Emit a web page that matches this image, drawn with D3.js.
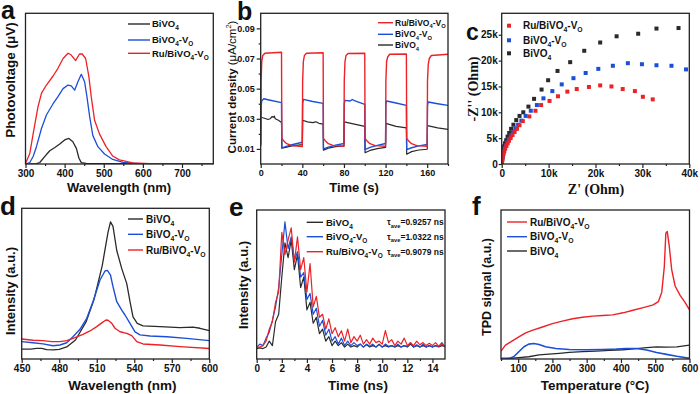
<!DOCTYPE html>
<html>
<head>
<meta charset="utf-8">
<script src="https://cdn.jsdelivr.net/npm/d3@7/dist/d3.min.js"></script>
<style>
body { margin: 0; background: #fff; }
text { font-family: "Liberation Sans", Arial, sans-serif; font-weight: bold; fill: #111; }
.serif { font-family: "Liberation Serif", "Times New Roman", serif; }
</style>
</head>
<body>
<script>
//colours used in every panel
var RED = "#ec2227", BLUE = "#1b4fd8", BLACK = "#2a2a2a";

//legend names, [text, isSubscript]
var nameRu = [["Ru/BiVO", 0], ["4", 1], ["-V", 0], ["O", 1]];
var nameV = [["BiVO", 0], ["4", 1], ["-V", 0], ["O", 1]];
var nameB = [["BiVO", 0], ["4", 1]];

//panel a: surface photovoltage, [wavelength nm, signal]
var aRu = [[300,0.4],[311,7],[319.5,20],[332,38],[341,47],[353.5,52.4],[370.5,58.4],[383,63.5],[396,70],[408.7,73.5],[417,72.3],[428,68.6],[438,73],[445,73],[453.7,70],[462,58],[468,44.7],[476.6,29],[489,20],[506,11.5],[523,5.3],[540,2.7],[574,0.7],[617,0.2],[780,0]];
var aV = [[300,0],[311,1],[319.5,5],[328,11.5],[341,23.7],[353.5,32.5],[370.5,40],[383,44.7],[396,50],[408.7,52.4],[417,51.8],[425.6,49],[434,54.6],[442.6,59.5],[451,54.6],[457,44.7],[464,31.4],[472,19],[485,11.5],[502,6.6],[523,3],[549,1],[591,0.2],[780,0]];
var aB = [[300,0],[328,0.2],[336.5,1],[349,4.9],[362,8.8],[375,11],[387.5,13.3],[400,16],[411,17],[421,14.8],[430,10.4],[436.7,3.8],[442.6,0.9],[455,0.4],[489,0.2],[780,0]];
var aTicks = [300, 400, 500, 600, 700];
var aMinor = [350, 450, 550, 650, 750];

//panel b: photocurrent under chopped light, [time s, current]
var bRu = [[0,0.013],[0.4,0.055],[1,0.068],[2,0.072],[4,0.0735],[20,0.0742],[20.3,0.017],[22,0.0155],[25,0.0135],[30,0.0122],[40,0.0116],[40.3,0.055],[41,0.068],[42,0.072],[44,0.0735],[60,0.0738],[60.3,0.017],[62,0.0155],[65,0.0135],[70,0.0122],[80,0.0118],[80.3,0.055],[81,0.068],[82,0.072],[84,0.0733],[100,0.0735],[100.3,0.017],[102,0.0155],[105,0.0135],[110,0.0122],[120,0.0118],[120.3,0.055],[121,0.068],[122,0.071],[124,0.0728],[140,0.073],[140.3,0.017],[142,0.0155],[145,0.0135],[150,0.0122],[160,0.0118],[160.3,0.055],[161,0.066],[162,0.07],[164,0.072],[180,0.0728]];
var bV = [[0,0.012],[0.4,0.038],[1,0.042],[3,0.0433],[8,0.0425],[20,0.0407],[20.3,0.0107],[24,0.0115],[30,0.0128],[40,0.0144],[40.3,0.04],[41,0.0429],[50,0.0415],[60,0.0402],[60.3,0.01],[65,0.0112],[72,0.0125],[80,0.0136],[80.3,0.04],[81,0.0422],[86,0.0418],[88,0.0428],[90,0.042],[100,0.0396],[100.3,0.0096],[105,0.011],[112,0.0124],[120,0.0136],[120.3,0.04],[121,0.0418],[130,0.0405],[140,0.0389],[140.3,0.0096],[145,0.0108],[152,0.012],[160,0.0129],[160.3,0.039],[161,0.0411],[170,0.04],[180,0.0389]];
var bB = [[0,0.031],[3,0.0305],[7,0.0295],[9,0.03],[11,0.0315],[12,0.031],[13,0.0318],[14,0.03],[17,0.029],[20,0.0275],[20.3,0.0105],[24,0.011],[30,0.012],[40,0.0128],[40.3,0.029],[45,0.028],[50,0.0275],[53,0.028],[56,0.027],[60,0.0265],[60.3,0.0092],[65,0.0105],[72,0.0115],[80,0.012],[80.3,0.028],[90,0.0265],[100,0.025],[100.3,0.0075],[105,0.009],[112,0.0102],[120,0.011],[120.3,0.027],[130,0.025],[140,0.024],[140.3,0.0065],[145,0.0082],[152,0.0093],[160,0.0098],[160.3,0.0255],[170,0.024],[180,0.023]];
var bTicks = [0, 40, 80, 120, 160];
var bMinor = [20, 60, 100, 140, 180];
var bYTicks = [0.01, 0.03, 0.05, 0.07, 0.09];
var bYMinor = [0.02, 0.04, 0.06, 0.08];

//panel c: Nyquist plot, [Z' kOhm, -Z'' kOhm]
var cRu = [[0.05,0.2],[0.1,0.6],[0.15,1.0],[0.25,1.5],[0.4,2.0],[0.55,2.5],[0.75,3.0],[1.0,3.5],[1.25,4.0],[1.55,4.5],[1.9,5.0],[2.3,5.6],[2.75,6.2],[3.25,6.8],[3.8,7.5],[4.5,8.3],[5.9,9.2],[7.2,10.3],[8.4,11.4],[10.2,12.2],[12.0,13.1],[14.0,14.0],[16.0,14.5],[18.6,14.9],[21.0,15.2],[23.4,15.0],[25.8,14.5],[28.4,14.1],[30.1,13.0],[32.2,12.5]];
var cV = [[0.05,0.3],[0.1,0.8],[0.2,1.3],[0.3,1.8],[0.45,2.4],[0.65,3.0],[0.9,3.6],[1.2,4.2],[1.55,4.8],[1.95,5.5],[2.4,6.2],[2.9,6.9],[3.5,7.6],[4.2,8.4],[5.1,9.3],[6.2,10.3],[7.5,11.4],[8.9,12.7],[10.8,14.1],[12.8,15.4],[15.3,16.6],[17.9,17.6],[20.6,18.4],[23.7,19.0],[26.9,19.5],[29.9,19.3],[33.0,19.1],[36.2,19.0],[39.3,18.3]];
var cB = [[0.05,0.4],[0.1,1.0],[0.15,1.6],[0.25,2.2],[0.35,2.8],[0.5,3.4],[0.7,4.0],[0.95,4.6],[1.25,5.3],[1.6,6.0],[2.0,6.8],[2.5,7.6],[3.1,8.5],[3.8,9.3],[4.6,10.0],[5.7,11.1],[6.9,12.6],[8.5,14.4],[9.9,16.2],[11.9,18.0],[14.6,19.7],[17.6,21.9],[21.0,23.5],[24.5,24.7],[29.1,25.2],[33.0,26.2],[37.7,26.3]];
var cTicks = [0, 10, 20, 30, 40];
var cMinor = [5, 15, 25, 35];
var cYTicks = [0, 5, 10, 15, 20, 25];

//panel d: PL spectra, [wavelength nm, intensity]
var dB = [[450,6.6],[457,6.6],[462,7],[466,7],[470,6.2],[475,6],[480,6.4],[486,8],[493,12.6],[501.6,24.8],[508,40],[514.4,62],[519,84],[521,91],[523,88],[526,72],[530,60],[534,50],[536.6,38],[539,28],[542.4,23.7],[547,22],[560.6,21.5],[576.5,20.8],[587,21.2],[592.5,20.4],[600,18.8]];
var dV = [[450,11.5],[459,10.8],[467,10],[475,8.8],[480.6,9.3],[486,10.8],[491,14.8],[496.6,19.7],[502,27],[507,38],[512.6,52.4],[516.6,58.4],[518.5,58.8],[521,55.7],[523,48],[526,38],[530,32.5],[532.6,29.2],[536.6,23.7],[540.6,18],[544.6,16],[552.6,15.3],[566,14.8],[581.9,13.7],[600,12.2]];
var dRu = [[450,13.3],[459,12.4],[467,12.2],[474,11.5],[480.6,11.5],[486,12.2],[492.6,14.2],[499,16.4],[504.6,18.6],[510,21.5],[514,24],[517.4,25.9],[519,25.7],[522,23.7],[524.6,20.4],[528.6,18.1],[534,17],[538,15.5],[542,11.5],[547,10],[560.6,9.3],[576.5,8.2],[600,7]];
var dTicks = [450, 480, 510, 540, 570, 600];
var dMinor = [465, 495, 525, 555, 585];

//panel e: TRPL decay, one value every eStep ns from 0 to 15
var eStep = 0.25;
var eB = [7,7.5,7,8,12,9,25,30,55,78,68,80,60,70,48,55,33,38,24,28,17,20,12,15,9,12,9,11,8,10,8,9,8,10,8,9.5,8,9,8,10,8,9,8,9,8,9,8,9,8,10,8,9,8,9,8,9,8,9,8,9,8.5];
var eV = [8,10,9,14,18,26,35,48,70,92,74,82,66,72,55,58,40,44,30,34,22,26,16,20,12,15,10,14,9,12,9,11,9,10,8,10,8.5,10,8,9.5,8,10,8.5,9,8,10,8,9,8.5,11,8,9.5,8,10,8,9,8,9,8.5,11,8];
var eRu = [8,8,9,12,20,25,38,45,85,70,80,88,65,82,60,68,45,64,35,42,28,30,20,27,17,21,15,19,12,20,11,15,12,16,10,13,10,14,11,12,10,19,11,13,9,12,10,14,9,11,9,12,9.5,11,9,10.5,9,11,8.5,10,8.5];
var eTicks = [0, 2, 4, 6, 8, 10, 12, 14];
var eMinor = [1, 3, 5, 7, 9, 11, 13];
var eTau = ["0.9257", "1.0322", "0.9079"];

//panel f: O2-TPD, [temperature C, signal]
var fRu = [[50,5.3],[63,9.3],[82,12],[102,14.8],[122,17.5],[141,19.2],[171,21.5],[200,23.7],[229,25.4],[259,27],[288,28],[318,28.8],[347,29.2],[376,29.6],[406,31],[435,32.7],[465,34.5],[494,36.3],[509,38.5],[519,44.7],[526.5,62],[531,84.5],[535,85.6],[541,75.7],[548,60],[558,49],[573,42.5],[587,38],[600,33]];
var fV = [[50,0.4],[73,0.4],[87,1.5],[102,4.9],[117,8.2],[131,10],[146,10.4],[161,9.7],[180,8.2],[210,7],[249,6.4],[298,6.2],[347,6.4],[386,6.6],[416,7],[445,7],[475,6],[504,4.4],[533,3.1],[563,1.8],[600,0.4]];
var fB = [[50,0],[73,0.4],[102,0.9],[131,1.5],[161,2.7],[190,3.3],[220,3.8],[249,4.4],[288,4.9],[327,5.3],[367,5.8],[406,6.2],[445,7],[475,7.7],[504,8.2],[533,8],[563,8.2],[600,9.3]];
var fTicks = [100, 200, 300, 400, 500, 600];
var fMinor = [50, 150, 250, 350, 450, 550];

var svg = d3.select("body")
  .append("svg")
  .attr("width", 700)
  .attr("height", 394);

//text with subscripts, parts = [[text, isSub], ...]
function richText(g, parts, x, y, size) {
  var t = g.append("text")
    .attr("x", x)
    .attr("y", y)
    .style("font-size", size + "px");
  var shift = 0;
  parts.forEach(function(p) {
    var want = p[1] ? size * 0.3 : 0;
    t.append("tspan")
      .attr("dy", want - shift)
      .style("font-size", p[1] ? (size * 0.68) + "px" : null)
      .text(p[0]);
    shift = want;
  });
  return t;
}

//one framed panel with bottom axis and optional left axis
function panel(p) {
  var w = p.x1 - p.x0, h = p.y1 - p.y0;
  var g = svg.append("g").attr("transform", "translate(" + p.x0 + "," + p.y0 + ")");
  var x = d3.scaleLinear().domain(p.xDomain).range([0, w]);
  var y = d3.scaleLinear().domain(p.yDomain).range([h, 0]);

  g.append("g")
    .attr("class", "axis")
    .attr("transform", "translate(0," + h + ")")
    .call(d3.axisBottom(x).tickValues(p.xMinor).tickSize(2).tickFormat(""));
  g.append("g")
    .attr("class", "axis")
    .attr("transform", "translate(0," + h + ")")
    .call(d3.axisBottom(x).tickValues(p.xTicks).tickSize(4).tickPadding(2).tickFormat(p.xFormat || d3.format("d")));

  if (p.yTicks) {
    if (p.yMinor) {
      g.append("g")
        .attr("class", "axis")
        .call(d3.axisLeft(y).tickValues(p.yMinor).tickSize(2).tickFormat(""));
    }
    g.append("g")
      .attr("class", "axis")
      .call(d3.axisLeft(y).tickValues(p.yTicks).tickSize(p.yTickSize || 4).tickPadding(p.yPad || 2).tickFormat(p.yFormat));
  }
  g.selectAll(".domain").remove();
  g.selectAll(".axis").style("color", "#222").selectAll("line").attr("stroke-width", 1.2);
  g.selectAll(".axis text").style("font-size", (p.tickSize || 10) + "px");

  g.append("clipPath").attr("id", "clip" + p.id)
    .append("rect").attr("width", w).attr("height", h);
  var plot = g.append("g").attr("clip-path", "url(#clip" + p.id + ")");

  g.append("rect")
    .attr("width", w)
    .attr("height", h)
    .attr("fill", "none")
    .attr("stroke", "#222")
    .attr("stroke-width", 1.3);

  return { g: g, plot: plot, x: x, y: y, w: w, h: h };
}

function drawLine(P, data, color, width) {
  var line = d3.line()
    .x(function(d) { return P.x(d[0]); })
    .y(function(d) { return P.y(d[1]); });
  P.plot.append("path")
    .datum(data)
    .attr("d", line)
    .attr("fill", "none")
    .attr("stroke", color)
    .attr("stroke-width", width)
    .attr("stroke-linejoin", "round");
}

//legend rows in absolute page coordinates
function lineLegend(rows, x0, x1, tx, size, width) {
  rows.forEach(function(r) {
    svg.append("line")
      .attr("x1", x0).attr("x2", x1)
      .attr("y1", r.y).attr("y2", r.y)
      .attr("stroke", r.color)
      .attr("stroke-width", width);
    richText(svg, r.name, tx, r.y + size * 0.36, size);
  });
}

function yTitle(str, x, y, size, cls) {
  svg.append("text")
    .attr("class", cls || null)
    .attr("transform", "translate(" + x + "," + y + ") rotate(-90)")
    .attr("text-anchor", "middle")
    .style("font-size", size + "px")
    .text(str);
}

function xTitle(str, x, y, size, cls) {
  svg.append("text")
    .attr("class", cls || null)
    .attr("x", x)
    .attr("y", y)
    .attr("text-anchor", "middle")
    .style("font-size", size + "px")
    .text(str);
}

function letter(str, x, y, size) {
  svg.append("text")
    .attr("x", x)
    .attr("y", y)
    .style("font-size", size + "px")
    .text(str);
}

//----- panel a
var A = panel({ id: "a", x0: 25.5, y0: 13.3, x1: 213.3, y1: 164,
  xDomain: [300, 780], yDomain: [0, 100], xTicks: aTicks, xMinor: aMinor });
drawLine(A, aB, BLACK, 1.3);
drawLine(A, aV, BLUE, 1.3);
drawLine(A, aRu, RED, 1.3);
lineLegend([
  { name: nameB, color: BLACK, y: 24 },
  { name: nameV, color: BLUE, y: 40 },
  { name: nameRu, color: RED, y: 53.3 }
], 128, 150, 152, 9.5, 1.4);
yTitle("Photovoltage (\u03bcV)", 15, 80, 13.5);
xTitle("Wavelength (nm)", 119, 191.5, 13);
letter("a", 1, 19, 25);

//----- panel b
var B = panel({ id: "b", x0: 260.7, y0: 13.3, x1: 448, y1: 164,
  xDomain: [0, 180], yDomain: [0, 0.1], xTicks: bTicks, xMinor: bMinor,
  yTicks: bYTicks, yMinor: bYMinor, yFormat: d3.format(".2f"), tickSize: 9 });
drawLine(B, bB, BLACK, 1.2);
drawLine(B, bV, BLUE, 1.4);
drawLine(B, bRu, RED, 1.4);
lineLegend([
  { name: nameRu, color: RED, y: 22.7 },
  { name: nameV, color: BLUE, y: 34.3 },
  { name: nameB, color: BLACK, y: 45 }
], 378, 393, 395, 8.5, 1.4);
var bt = svg.append("text")
  .attr("transform", "translate(235.5,87) rotate(-90)")
  .attr("text-anchor", "middle")
  .style("font-size", "11.5px");
bt.append("tspan").text("Current density ");
bt.append("tspan").style("font-weight", "normal").text("(\u03bcA/cm");
bt.append("tspan").style("font-weight", "normal").style("font-size", "7.5px").attr("dy", -5).text("2");
bt.append("tspan").style("font-weight", "normal").attr("dy", 5).text(")");
xTitle("Time (s)", 354, 192, 13);
letter("b", 237, 20, 25);

//----- panel c
var C = panel({ id: "c", x0: 501.7, y0: 13.3, x1: 689.3, y1: 164,
  xDomain: [0, 40], yDomain: [0, 29.15], xTicks: cTicks, xMinor: cMinor,
  yTicks: cYTicks, yTickSize: 3, yPad: 1,
  xFormat: function(d) { return d ? d + "k" : "0"; },
  yFormat: function(d) { return d ? d + "k" : "0"; } });
[[cB, BLACK], [cV, BLUE], [cRu, RED]].forEach(function(s) {
  C.plot.selectAll(null)
    .data(s[0])
    .enter()
    .append("rect")
    .attr("x", function(d) { return C.x(d[0]) - 2; })
    .attr("y", function(d) { return C.y(d[1]) - 2; })
    .attr("width", 4)
    .attr("height", 4)
    .attr("fill", s[1]);
});
[{ name: nameRu, color: RED, y: 25.7 }, { name: nameV, color: BLUE, y: 40.3 }, { name: nameB, color: BLACK, y: 53.3 }]
  .forEach(function(r) {
    svg.append("rect").attr("x", 507).attr("y", r.y - 2).attr("width", 4).attr("height", 4).attr("fill", r.color);
    richText(svg, r.name, 523, r.y + 3.6, 10);
  });
yTitle("-Z'' (Ohm)", 478, 89, 14, "serif");
xTitle("Z' (Ohm)", 596, 194, 14, "serif");
letter("c", 466, 40, 23);

//----- panel d
var D = panel({ id: "d", x0: 21.7, y0: 208.3, x1: 209.3, y1: 359,
  xDomain: [450, 600], yDomain: [0, 100], xTicks: dTicks, xMinor: dMinor });
drawLine(D, dB, BLACK, 1.3);
drawLine(D, dV, BLUE, 1.4);
drawLine(D, dRu, RED, 1.4);
lineLegend([
  { name: nameB, color: BLACK, y: 219 },
  { name: nameV, color: BLUE, y: 234.3 },
  { name: nameRu, color: RED, y: 250 }
], 128, 143, 146, 10, 1.4);
yTitle("Intensity (a.u.)", 15, 291, 13);
xTitle("Wavelength (nm)", 122.5, 390, 13.5);
letter("d", 0, 215, 26);

//----- panel e
var E = panel({ id: "e", x0: 256.7, y0: 210, x1: 445, y1: 359,
  xDomain: [0, 15], yDomain: [0, 100], xTicks: eTicks, xMinor: eMinor });
[[eB, BLACK], [eV, BLUE], [eRu, RED]].forEach(function(s) {
  drawLine(E, s[0].map(function(v, i) { return [i * eStep, v]; }), s[1], 1.2);
});
lineLegend([
  { name: nameB, color: BLACK, y: 222.3 },
  { name: nameV, color: BLUE, y: 236.7 },
  { name: nameRu, color: RED, y: 251.7 }
], 306.7, 323, 326, 9.5, 1.4);
eTau.forEach(function(v, i) {
  var ty = [222.3, 236.7, 251.7][i] + 3;
  richText(svg, [["\u03c4", 0], ["ave", 1], ["=" + v + " ns", 0]], 387, ty, 8.5);
});
yTitle("Intensity (a.u.)", 248, 285, 13);
xTitle("Time (ns)", 358, 390, 13.5);
letter("e", 229, 216, 26);

//----- panel f
var F = panel({ id: "f", x0: 501, y0: 210, x1: 689.5, y1: 359,
  xDomain: [50, 600], yDomain: [0, 100], xTicks: fTicks, xMinor: fMinor });
drawLine(F, fB, BLACK, 1.3);
drawLine(F, fV, BLUE, 1.6);
drawLine(F, fRu, RED, 1.4);
lineLegend([
  { name: nameRu, color: RED, y: 222 },
  { name: nameV, color: BLUE, y: 236.7 },
  { name: nameB, color: BLACK, y: 251 }
], 507, 527, 530, 10, 1.4);
yTitle("TPD signal (a.u.)", 491, 287, 12.5);
xTitle("Temperature (\u00b0C)", 595, 390, 13.5);
letter("f", 472, 215, 26);
</script>
</body>
</html>
